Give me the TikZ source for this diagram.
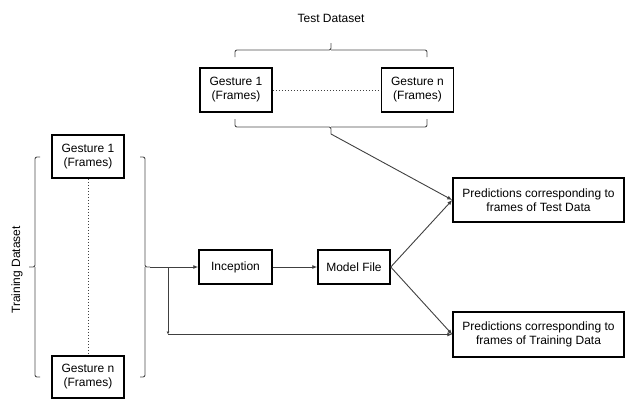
\documentclass[tikz,border=0pt]{standalone}
\usepackage{fontspec}
\setmainfont{Liberation Sans}
\usetikzlibrary{arrows.meta}
\begin{document}
\begin{tikzpicture}[x=1pt,y=-1pt,
  font=\fontsize{12}{14}\selectfont,
  box/.style={draw, line width=1.5pt, align=center, inner sep=0pt},
  brc/.style={draw=black!70, line width=0.9pt, rounded corners=2pt},
  conn/.style={draw=black!75, line width=0.9pt, -{Latex[length=5pt,width=4pt]}},
  dotline/.style={draw=black!75, line width=1pt, dotted}]
\useasboundingbox (0,0) rectangle (626,400);
% test dataset
\node (tlabel) at (331,18) {Test Dataset};
\node[box, minimum width=72pt, minimum height=44pt] (tg1) at (236,90) {Gesture 1\\(Frames)};
\node[box, minimum width=72pt, minimum height=44pt] (tgn) at (417.5,90) {Gesture n\\(Frames)};
\draw[dotline] (tg1.east) -- (tgn.west);
\draw[brc] (235,57) |- (331,50) -- (331,43);
\draw[brc] (331,50) -| (427,57);
\draw[brc] (235,119) |- (331,127) -- (331,134);
\draw[brc] (331,127) -| (427,119);
\coordinate (ct) at (331,134);
% training dataset
\node[rotate=90] (trlabel) at (17,270) {Training Dataset};
\node[box, minimum width=72pt, minimum height=43pt] (trg1) at (88,156.5) {Gesture 1\\(Frames)};
\node[box, minimum width=72pt, minimum height=42pt] (trgn) at (88,377) {Gesture n\\(Frames)};
\draw[dotline] (trg1.south) -- (trgn.north);
\draw[brc] (40,157) -| (35,267) -- (29,267);
\draw[brc] (35,267) |- (40,377);
\draw[brc] (140,157) -| (145,267) -- (150,267);
\draw[brc] (145,267) |- (140,377);
\coordinate (rt) at (150,267);
% pipeline
\node[box, minimum width=73pt, minimum height=34pt] (inc) at (235.5,267) {Inception};
\node[box, minimum width=72pt, minimum height=34pt] (mf) at (354,267) {Model File};
\node[box, minimum width=171pt, minimum height=44pt] (ptest) at (538.5,200) {Predictions corresponding to\\frames of Test Data};
\node[box, minimum width=171pt, minimum height=45pt] (ptrain) at (538.5,334.5) {Predictions corresponding to\\frames of Training Data};
\coordinate (br) at (168,267);
\coordinate (bc) at (168,334.5);
\draw[conn] (rt) -- (inc.west);
\draw[conn] (inc) -- (mf);
\draw[conn] (mf.east) -- (ptest.west);
\draw[conn] (mf.east) -- (ptrain.west);
\draw[conn] (ct) -- (ptest.west);
\draw[draw=black!75, line width=0.9pt, -{Latex[length=3pt,width=3pt]}] (br) -- (bc);
\draw[conn] (bc) -- (ptrain.west);
\end{tikzpicture}
\end{document}
